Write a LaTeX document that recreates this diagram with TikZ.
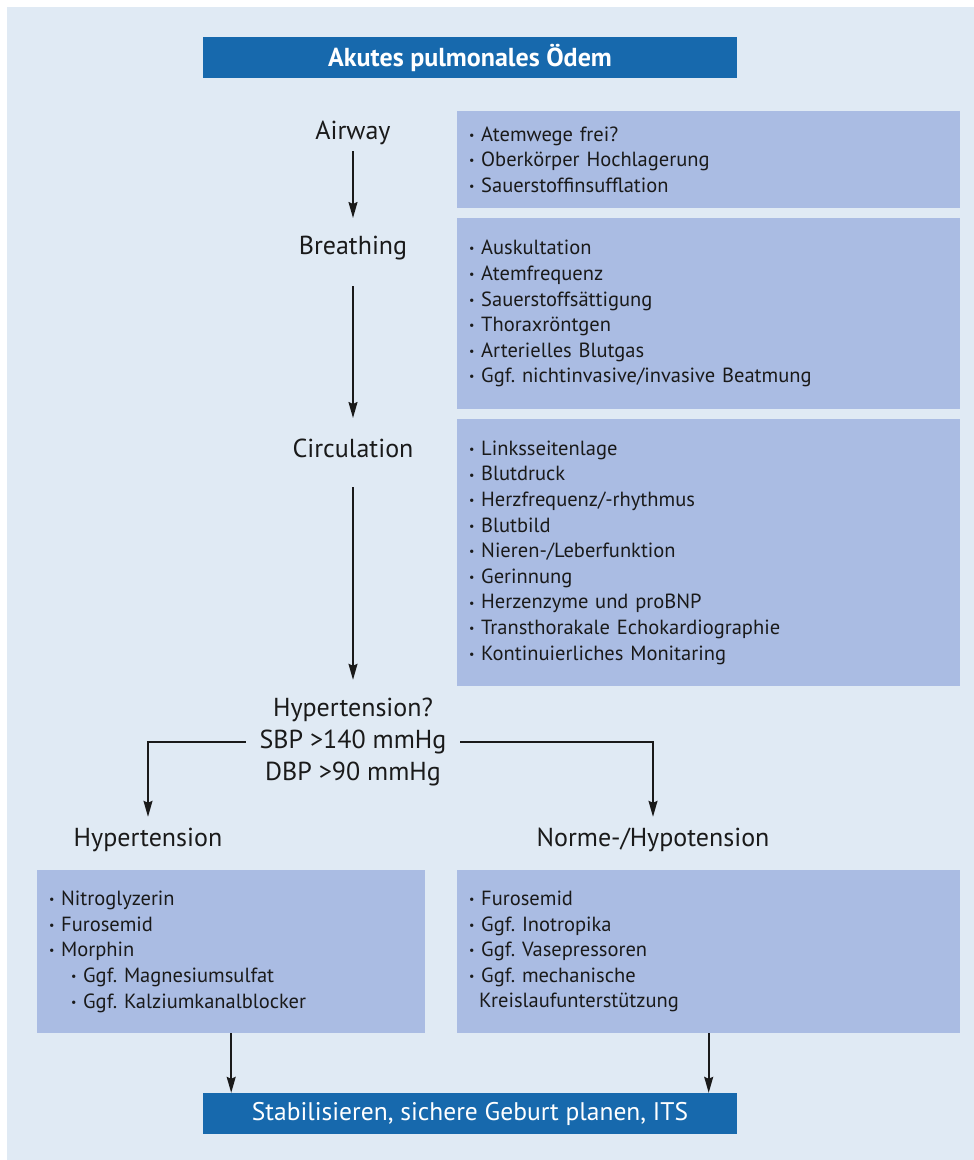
\documentclass[tikz,border=0pt]{standalone}
\usepackage{fontspec}
\setmainfont{PT Sans}
\definecolor{aeBlue}{HTML}{1769AD}
\definecolor{aeBack}{HTML}{E0EAF4}
\definecolor{aeBox}{HTML}{AABCE3}
\definecolor{aeInk}{HTML}{1A1A1A}
\usetikzlibrary{arrows.meta,positioning}
\newcommand{\itm}{\makebox[12pt][l]{\raisebox{1.9pt}{\fontsize{12}{12}\selectfont\textbullet}}}
\frenchspacing

\begin{document}
\begin{tikzpicture}[x=1pt, y=-1pt,
  heading/.style={font=\fontsize{26}{32}\selectfont, text=aeInk, inner sep=0pt, minimum height=46pt},
  listbox/.style={fill=aeBox, anchor=north west, align=left, inner xsep=12pt, inner ysep=0pt,
    text=aeInk, font=\fontsize{20.5}{25.6}\selectfont},
  banner/.style={fill=aeBlue, text=white, minimum width=534pt, minimum height=41pt, inner sep=0pt},
  arr/.style={aeInk, line width=1.6pt, -{Stealth[length=16pt,width=9pt,inset=2pt]}}]
  % Background panel
  \useasboundingbox (0,0) rectangle (974,1160);
  \fill[aeBack] (7,7) rectangle (974,1160);

  % Title
  \node[banner, font=\bfseries\fontsize{26}{28}\selectfont] (title) at (470,57.5) {Akutes pulmonales Ödem};

  % ABC steps
  \node[heading] (airway) at (353,133) {Airway};
  \node[heading] (breathing) at (353,248) {Breathing};
  \node[heading] (circulation) at (353,448) {Circulation};
  \node[heading, align=center, minimum width=214pt, minimum height=124pt] (question) at (353,742)
    {Hypertension?\\SBP >140 mmHg\\DBP >90 mmHg};

  % Measures per step
  \node[listbox, text width=479pt, minimum height=97pt] (abox) at (457,111)
    {\itm Atemwege frei?\\\itm Oberkörper Hochlagerung\\\itm Sauerstoffinsufflation};
  \node[listbox, text width=479pt, minimum height=191pt] (bbox) at (457,218)
    {\itm Auskultation\\\itm Atemfrequenz\\\itm Sauerstoffsättigung\\\itm Thoraxröntgen\\
     \itm Arterielles Blutgas\\\itm Ggf. nichtinvasive/invasive Beatmung};
  \node[listbox, text width=479pt, minimum height=267pt] (cbox) at (457,419)
    {\itm Linksseitenlage\\\itm Blutdruck\\\itm Herzfrequenz/-rhythmus\\\itm Blutbild\\
     \itm Nieren-/Leberfunktion\\\itm Gerinnung\\\itm Herzenzyme und proBNP\\
     \itm Transthorakale Echokardiographie\\\itm Kontinuierliches Monitaring};

  % Branches
  \node[heading] (hyper) at (148,840) {Hypertension};
  \node[heading] (normo) at (653,840) {Norme-/Hypotension};
  \node[listbox, text width=364pt, minimum height=163pt] (hbox) at (37,870)
    {\itm Nitroglyzerin\\\itm Furosemid\\\itm Morphin\\
     \hspace*{22pt}\itm Ggf. Magnesiumsulfat\\\hspace*{22pt}\itm Ggf. Kalziumkanalblocker};
  \node[listbox, text width=479pt, minimum height=163pt] (nbox) at (457,870)
    {\itm Furosemid\\\itm Ggf. Inotropika\\\itm Ggf. Vasepressoren\\\itm Ggf. mechanische\\
     \hspace*{10pt}Kreislaufunterstützung};

  % Final step
  \node[banner, font=\fontsize{25.5}{28}\selectfont] (final) at (470,1113.5)
    {Stabilisieren, sichere Geburt planen, ITS};

  % Connectors
  \draw[arr] ([yshift=-18pt]airway.center) -- ([yshift=30pt]breathing.center);
  \draw[arr] ([yshift=-38pt]breathing.center) -- ([yshift=30pt]circulation.center);
  \draw[arr] ([yshift=-39pt]circulation.center) -- (question.north);
  \draw[arr] (question.west) -| (hyper.north);
  \draw[arr] (question.east) -| (normo.north);
  \draw[arr] (hbox.south) -- (hbox.south |- final.north);
  \draw[arr] (nbox.south) -- (nbox.south |- final.north);
\end{tikzpicture}
\end{document}
